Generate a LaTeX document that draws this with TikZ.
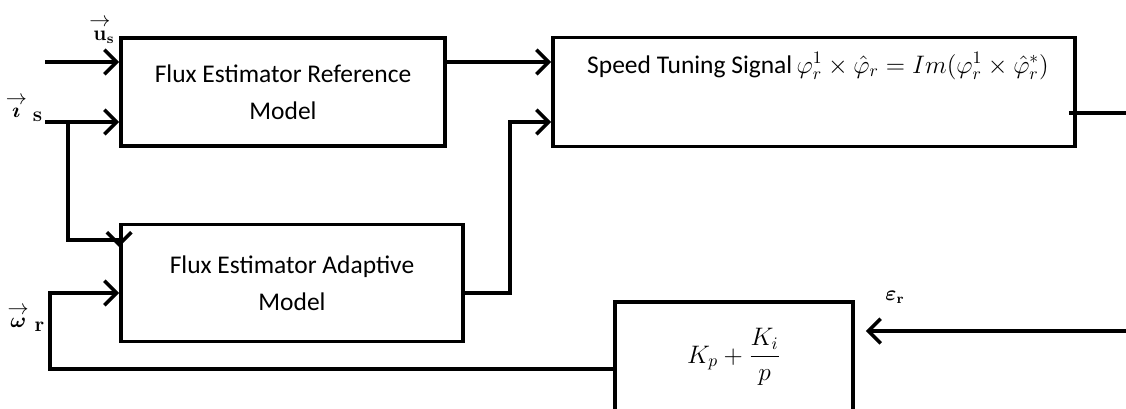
\documentclass[tikz,border=0pt]{standalone}
\usepackage{amsmath,amssymb,bm}
\usepackage[no-math]{fontspec}
\setmainfont{Carlito}
\usepackage{tikz}
\usetikzlibrary{arrows.meta, positioning, calc}

\begin{document}
\begin{tikzpicture}[x=0.02cm, y=-0.02cm,
  every node/.style={font=\fontsize{14.5}{21}\selectfont},
  blk/.style ={draw, line width=2.2pt, align=center, inner sep=0pt},
  arr/.style ={-{Straight Barb[length=7pt,width=14pt,line width=2pt]},
               line width=2.2pt},
  ln/.style  ={line width=2.2pt},
  sig/.style ={font=\fontsize{12}{14}\selectfont}
]
\useasboundingbox (0,0) rectangle (1126,409);

%% ─── blocks ────────────────────────────────────────────────────────────────
\node[blk, minimum width=6.48cm, minimum height=2.16cm]
      (ref) at (283,92)  {Flux Estimator Reference\\Model};
\node[blk, minimum width=10.44cm, minimum height=2.18cm]
      (spd) at (814,92)  {};
\node (spd_t) at (818,66)
      {Speed Tuning Signal$\,\varphi_r^1\times\hat{\varphi}_r = Im(\varphi_r^1\times\hat{\varphi}_r^{*})$};
\node[blk, minimum width=6.84cm, minimum height=2.34cm]
      (ada) at (292,283) {Flux Estimator Adaptive\\Model};
\node[blk, minimum width=4.76cm, minimum height=2.20cm]
      (pi)  at (734,357) {$K_p+\dfrac{K_i}{p}$};

%% ─── signals ───────────────────────────────────────────────────────────────
\node[sig] (us_l) at (102,30)  {$\overset{\textstyle\rightarrow}{\mathbf{u}}\!{}_{\mathbf{s}}$};
\node[sig] (is_l) at (24,108)  {$\overset{\textstyle\rightarrow}{\boldsymbol{\imath}}\;\lower2pt\hbox{$\mathbf{s}$}$};
\node[sig] (wr_l) at (26,318)  {$\overset{\textstyle\rightarrow}{\boldsymbol{\omega}}\;\lower2pt\hbox{$\mathbf{r}$}$};
\node[sig] (er_l) at (895,297) {$\boldsymbol{\varepsilon}_{\mathbf{r}}$};

\coordinate (us_in) at (45,62);
\coordinate (is_in) at (45,122);
\coordinate (is_j)  at (68,122);
\coordinate (fb)    at (50,369);
\coordinate (mid)   at (510,293);
\coordinate (out)   at (1126,113);
\coordinate (er_in) at (1126,331);

\draw[arr] (us_in) -- (ref.west |- us_in);
\draw[arr] (is_in) -- (ref.west |- is_in);
\draw[arr] (is_j) |- ($(ada.west |- 0,240)$) -- ++(0,7);
\draw[arr] (pi.west |- fb) -- (fb) |- (ada.west |- mid);

\draw[arr] (ref.east |- us_in) -- (spd.west |- us_in);
\draw[arr] (ada.east |- mid) -- (mid) |- (spd.west |- is_in);

\draw[ln]  ($(spd.east |- out)+(-8,0)$) -- (out);
\draw[arr, shorten >=0.22cm] (er_in) -- (pi.east |- er_in);

\end{tikzpicture}
\end{document}
